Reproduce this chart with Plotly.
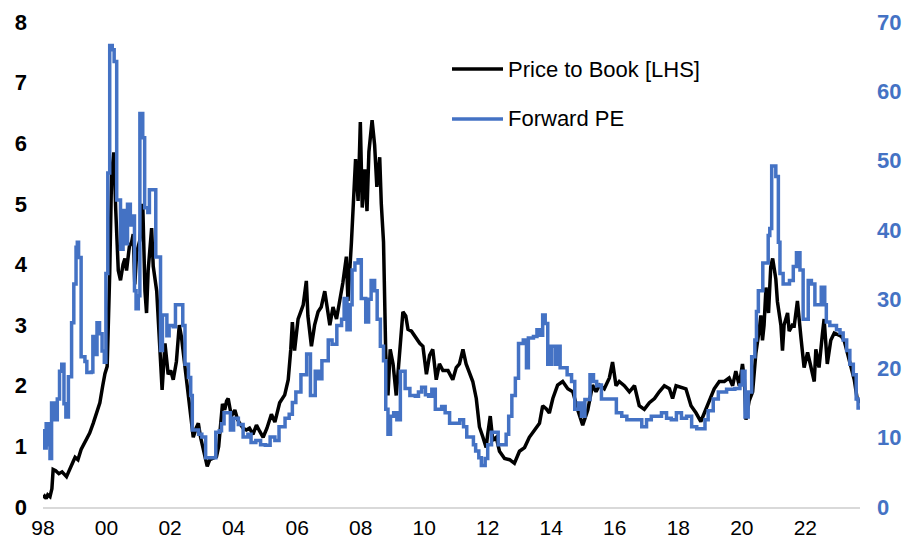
import plotly.graph_objects as go

# ---------------- data ----------------
pb_year = [
    1998.00, 1998.05, 1998.10, 1998.15, 1998.22, 1998.28, 1998.32, 1998.40, 1998.50, 1998.60,
    1998.74, 1998.80, 1998.88, 1998.95, 1999.01, 1999.10, 1999.20, 1999.30, 1999.37, 1999.47,
    1999.58, 1999.66, 1999.72, 1999.79, 1999.88, 1999.95, 2000.02, 2000.06, 2000.10, 2000.16,
    2000.23, 2000.29, 2000.37, 2000.44, 2000.52, 2000.58, 2000.63, 2000.72, 2000.79, 2000.84,
    2000.89, 2000.95, 2001.05, 2001.14, 2001.21, 2001.26, 2001.31, 2001.42, 2001.47, 2001.58,
    2001.66, 2001.75, 2001.84, 2001.94, 2002.02, 2002.10, 2002.20, 2002.29, 2002.36, 2002.47,
    2002.57, 2002.65, 2002.73, 2002.82, 2002.89, 2002.96, 2003.04, 2003.10, 2003.17, 2003.25,
    2003.36, 2003.46, 2003.53, 2003.59, 2003.65, 2003.72, 2003.78, 2003.83, 2003.93, 2004.04,
    2004.12, 2004.19, 2004.30, 2004.40, 2004.50, 2004.61, 2004.72, 2004.82, 2004.93, 2005.05,
    2005.19, 2005.30, 2005.45, 2005.61, 2005.72, 2005.80, 2005.85, 2005.92, 2006.03, 2006.19,
    2006.29, 2006.34, 2006.45, 2006.55, 2006.66, 2006.76, 2006.87, 2007.03, 2007.13, 2007.24,
    2007.34, 2007.44, 2007.55, 2007.60, 2007.71, 2007.76, 2007.84, 2007.92, 2007.99, 2008.05,
    2008.13, 2008.20, 2008.26, 2008.36, 2008.44, 2008.51, 2008.60, 2008.65, 2008.72, 2008.79,
    2008.86, 2008.93, 2009.02, 2009.12, 2009.23, 2009.33, 2009.42, 2009.49, 2009.60, 2009.70,
    2009.86, 2009.96, 2010.07, 2010.17, 2010.27, 2010.38, 2010.48, 2010.59, 2010.75, 2010.90,
    2011.01, 2011.11, 2011.22, 2011.32, 2011.43, 2011.53, 2011.64, 2011.74, 2011.85, 2011.95,
    2012.00, 2012.08, 2012.16, 2012.27, 2012.37, 2012.53, 2012.69, 2012.84, 2013.00, 2013.16,
    2013.31, 2013.47, 2013.63, 2013.73, 2013.84, 2013.94, 2014.05, 2014.20, 2014.36, 2014.52,
    2014.68, 2014.83, 2014.99, 2015.15, 2015.30, 2015.41, 2015.52, 2015.67, 2015.83, 2015.93,
    2016.04, 2016.14, 2016.30, 2016.46, 2016.62, 2016.77, 2016.93, 2017.09, 2017.25, 2017.40,
    2017.56, 2017.72, 2017.82, 2017.93, 2018.08, 2018.24, 2018.40, 2018.56, 2018.71, 2018.82,
    2018.97, 2019.13, 2019.29, 2019.45, 2019.60, 2019.71, 2019.81, 2019.92, 2020.02, 2020.08,
    2020.13, 2020.23, 2020.34, 2020.44, 2020.55, 2020.60, 2020.65, 2020.70, 2020.76, 2020.84,
    2020.91, 2020.97, 2021.07, 2021.12, 2021.23, 2021.28, 2021.33, 2021.44, 2021.49, 2021.59,
    2021.65, 2021.75, 2021.86, 2021.96, 2022.07, 2022.17, 2022.28, 2022.33, 2022.43, 2022.54,
    2022.59, 2022.69, 2022.80, 2022.91, 2023.01, 2023.12, 2023.22, 2023.33, 2023.43, 2023.54,
    2023.63, 2023.72,
]
pb_value = [
    0.15, 0.18, 0.14, 0.20, 0.17, 0.30, 0.62, 0.60, 0.55, 0.58,
    0.50, 0.58, 0.68, 0.75, 0.82, 0.78, 0.95, 1.05, 1.10, 1.22,
    1.38, 1.50, 1.60, 1.72, 2.00, 2.20, 2.32, 3.00, 3.85, 5.50,
    5.85, 4.90, 3.90, 3.74, 4.00, 4.10, 3.90, 4.30, 4.37, 4.50,
    3.67, 4.20, 4.40, 5.00, 3.56, 3.20, 3.90, 4.60, 3.97, 3.56,
    2.65, 1.93, 2.70, 2.19, 2.25, 2.10, 2.40, 3.00, 2.80, 2.30,
    1.79, 1.45, 1.15, 1.30, 1.38, 1.15, 0.98, 0.85, 0.67, 0.78,
    0.80, 0.83, 1.00, 1.32, 1.70, 1.60, 1.75, 1.79, 1.50, 1.60,
    1.45, 1.38, 1.30, 1.27, 1.30, 1.20, 1.35, 1.25, 1.15, 1.30,
    1.53, 1.40, 1.72, 1.85, 2.10, 2.60, 3.05, 2.58, 3.10, 3.33,
    3.73, 3.15, 2.65, 3.00, 3.22, 3.30, 3.56, 3.00, 3.30, 3.10,
    3.39, 3.70, 4.13, 3.40, 4.37, 4.94, 5.74, 5.05, 6.35, 4.94,
    5.57, 4.88, 5.86, 6.38, 5.97, 5.28, 5.77, 5.00, 4.37, 2.53,
    1.84, 2.60, 2.36, 1.84, 2.50, 3.22, 3.15, 2.93, 2.90, 2.82,
    2.70, 2.65, 2.19, 2.50, 2.60, 2.10, 2.36, 2.25, 2.25, 2.10,
    2.30, 2.36, 2.60, 2.36, 2.19, 2.07, 1.79, 1.32, 1.15, 0.98,
    1.20, 1.50, 1.10, 1.15, 0.92, 0.80, 0.78, 0.72, 0.92, 0.98,
    1.15, 1.27, 1.38, 1.67, 1.62, 1.55, 1.79, 2.01, 2.07, 1.95,
    1.90, 1.61, 1.35, 1.60, 2.01, 1.90, 2.01, 1.95, 2.13, 2.39,
    2.00, 2.07, 2.00, 1.90, 2.00, 1.67, 1.61, 1.72, 1.79, 1.90,
    2.00, 1.95, 1.79, 2.00, 1.98, 1.95, 1.67, 1.55, 1.41, 1.55,
    1.72, 1.95, 2.07, 2.07, 2.13, 2.00, 2.24, 2.00, 2.36, 2.10,
    1.44, 1.75, 1.90, 2.53, 2.93, 3.16, 2.75, 3.00, 3.62, 3.20,
    3.96, 4.10, 3.76, 3.39, 3.00, 2.58, 3.00, 3.20, 2.90, 3.00,
    2.99, 3.40, 2.80, 2.30, 2.55, 2.30, 2.07, 2.60, 2.30, 2.87,
    3.10, 2.36, 2.75, 2.87, 2.85, 2.82, 2.75, 2.53, 2.36, 2.10,
    1.79, 1.72,
]

pe_year = [
    1998.00, 1998.04, 1998.10, 1998.16, 1998.22, 1998.27, 1998.38, 1998.45, 1998.52, 1998.59,
    1998.66, 1998.72, 1998.80, 1998.90, 1998.97, 1999.04, 1999.08, 1999.12, 1999.20, 1999.32,
    1999.38, 1999.52, 1999.57, 1999.64, 1999.70, 1999.78, 1999.86, 1999.93, 1999.98, 2000.04,
    2000.10, 2000.18, 2000.24, 2000.32, 2000.44, 2000.52, 2000.60, 2000.66, 2000.75, 2000.82,
    2000.88, 2000.93, 2001.00, 2001.05, 2001.14, 2001.20, 2001.30, 2001.35, 2001.55, 2001.70,
    2001.76, 2001.90, 2001.97, 2002.10, 2002.17, 2002.40, 2002.47, 2002.58, 2002.65, 2002.70,
    2002.90, 2003.00, 2003.12, 2003.44, 2003.55, 2003.62, 2003.70, 2003.90, 2004.00, 2004.15,
    2004.30, 2004.45, 2004.55, 2004.70, 2004.85, 2005.00, 2005.15, 2005.30, 2005.43, 2005.62,
    2005.75, 2005.85, 2005.96, 2006.12, 2006.30, 2006.42, 2006.57, 2006.68, 2006.78, 2006.98,
    2007.10, 2007.25, 2007.40, 2007.48, 2007.57, 2007.67, 2007.73, 2007.82, 2007.92, 2008.02,
    2008.16, 2008.25, 2008.33, 2008.44, 2008.52, 2008.62, 2008.72, 2008.79, 2008.86, 2008.94,
    2009.04, 2009.14, 2009.25, 2009.40, 2009.55, 2009.72, 2009.82, 2009.92, 2010.04, 2010.14,
    2010.24, 2010.35, 2010.55, 2010.66, 2010.80, 2011.12, 2011.24, 2011.34, 2011.55, 2011.62,
    2011.72, 2011.80, 2011.92, 2012.00, 2012.12, 2012.33, 2012.58, 2012.66, 2012.76, 2012.87,
    2012.97, 2013.12, 2013.22, 2013.28, 2013.44, 2013.55, 2013.65, 2013.73, 2013.81, 2013.89,
    2014.00, 2014.12, 2014.20, 2014.28, 2014.50, 2014.64, 2014.74, 2014.86, 2014.95, 2015.06,
    2015.22, 2015.33, 2015.43, 2015.52, 2015.58, 2016.05, 2016.22, 2016.38, 2016.85, 2017.00,
    2017.15, 2017.47, 2017.63, 2017.78, 2017.94, 2018.10, 2018.26, 2018.42, 2018.58, 2018.84,
    2018.94, 2019.10, 2019.26, 2019.52, 2019.78, 2019.94, 2020.01, 2020.10, 2020.20, 2020.31,
    2020.41, 2020.46, 2020.52, 2020.66, 2020.83, 2020.88, 2020.94, 2021.07, 2021.15, 2021.20,
    2021.30, 2021.50, 2021.62, 2021.72, 2021.83, 2021.93, 2022.09, 2022.19, 2022.30, 2022.50,
    2022.61, 2022.66, 2022.77, 2022.98, 2023.09, 2023.19, 2023.30, 2023.40, 2023.51, 2023.60,
    2023.66, 2023.72,
]
pe_value = [
    11.0, 8.5, 12.0, 9.0, 7.0, 15.0, 12.6, 15.6, 19.6, 20.6,
    14.9, 13.0, 18.8, 26.6, 32.2, 37.5, 38.2, 36.0, 21.7, 21.0,
    19.4, 19.5, 24.6, 22.0, 26.6, 25.0, 22.5, 20.9, 33.7, 48.2,
    66.6, 66.0, 64.3, 44.3, 37.2, 42.8, 38.0, 43.7, 40.7, 42.0,
    31.2, 28.6, 30.5, 56.8, 53.3, 43.2, 42.5, 45.8, 36.1, 22.6,
    27.7, 24.7, 26.2, 26.0, 29.2, 26.2, 20.6, 18.7, 16.1, 11.1,
    10.5, 10.1, 7.1, 10.8, 11.0, 12.0, 13.6, 11.1, 12.8, 11.9,
    10.1, 10.5, 9.3, 9.6, 9.0, 8.9, 10.1, 9.6, 11.6, 12.8,
    13.4, 15.1, 16.6, 19.1, 22.1, 16.1, 19.6, 18.5, 21.1, 24.1,
    23.5, 26.2, 27.1, 30.1, 25.6, 29.2, 34.2, 35.2, 35.7, 30.1,
    26.7, 30.0, 32.7, 31.2, 27.1, 23.2, 21.1, 14.1, 10.5, 13.1,
    13.6, 12.6, 19.6, 17.1, 16.1, 16.0, 16.6, 17.3, 16.2, 16.0,
    17.0, 14.1, 14.5, 13.6, 12.1, 12.6, 11.6, 10.1, 9.0, 8.1,
    7.1, 6.0, 7.0, 9.0, 10.8, 9.0, 10.5, 13.1, 16.1, 18.6,
    23.6, 24.1, 20.1, 24.4, 24.6, 25.6, 24.8, 27.7, 26.5, 20.6,
    23.2, 20.6, 23.2, 20.1, 19.1, 18.1, 14.1, 15.0, 13.1, 15.5,
    19.1, 18.1, 17.5, 17.6, 15.6, 13.6, 13.1, 12.6, 11.6, 12.6,
    13.1, 13.6, 12.8, 12.6, 13.6, 12.8, 13.1, 11.6, 11.3, 12.6,
    13.9, 15.6, 16.6, 17.0, 17.1, 17.6, 19.6, 13.0, 16.6, 21.7,
    24.1, 28.2, 31.2, 35.2, 39.2, 40.2, 49.2, 47.7, 38.2, 33.7,
    32.2, 32.7, 34.7, 36.7, 34.2, 27.1, 32.7, 32.2, 29.2, 31.7,
    29.2, 26.7, 26.2, 25.6, 25.1, 24.1, 22.6, 20.6, 19.1, 15.6,
    14.3, 14.3,
]

x_tick_vals = [1998, 2000, 2002, 2004, 2006, 2008, 2010, 2012, 2014, 2016, 2018, 2020, 2022]
x_tick_text = ["98", "00", "02", "04", "06", "08", "10", "12", "14", "16", "18", "20", "22"]
left_ticks = [0, 1, 2, 3, 4, 5, 6, 7, 8]
right_ticks = [0, 10, 20, 30, 40, 50, 60, 70]

series_names = ["Price to Book [LHS]", "Forward PE"]
BLACK = "#000000"
BLUE = "#4472C4"
FONT = "Arial, Liberation Sans, sans-serif"

# ---------------- figure ----------------
fig = go.Figure()
fig.add_trace(go.Scatter(
    x=pe_year, y=pe_value, name=series_names[1], yaxis="y2",
    mode="lines", line=dict(color=BLUE, width=3.5, shape="hv"), showlegend=False,
))
fig.add_trace(go.Scatter(
    x=pb_year, y=pb_value, name=series_names[0], yaxis="y",
    mode="lines", line=dict(color=BLACK, width=3.5), showlegend=False,
))

L, R, T, B = 43, 47, 22, 36
W, H = 907, 543
pw, ph = W - L - R, H - T - B


def px_to_paper(px, py):
    return (px - L) / pw, (H - B - py) / ph


# manual legend (line samples + text)
for i, (name, col) in enumerate(zip(series_names, [BLACK, BLUE])):
    py = 69 + 50 * i
    x0, yy = px_to_paper(452, py)
    x1, _ = px_to_paper(503, py)
    fig.add_shape(type="line", xref="paper", yref="paper", x0=x0, x1=x1, y0=yy, y1=yy,
                  line=dict(color=col, width=3.5))
    tx, _ = px_to_paper(506, py)
    fig.add_annotation(xref="paper", yref="paper", x=tx, y=yy, text=name, showarrow=False,
                       xanchor="left", yanchor="middle",
                       font=dict(family=FONT, size=22, color=BLACK))

fig.update_layout(
    width=W, height=H,
    margin=dict(l=L, r=R, t=T, b=B, autoexpand=False),
    paper_bgcolor="white", plot_bgcolor="white",
    font=dict(family=FONT, color=BLACK),
    xaxis=dict(
        range=[1998, 2023.72], tickvals=x_tick_vals, ticktext=x_tick_text,
        showgrid=False, zeroline=False, showline=True, linecolor="#D9D9D9", linewidth=2,
        ticks="", tickfont=dict(family=FONT, size=21, color=BLACK), ticklabelstandoff=1,
    ),
    yaxis=dict(
        range=[0, 8], tickvals=left_ticks, showgrid=False, zeroline=False, showline=False,
        ticks="", tickfont=dict(family=FONT, size=22, color=BLACK, weight="bold"),
        ticklabelstandoff=15,
    ),
    yaxis2=dict(
        range=[0, 70], tickvals=right_ticks, overlaying="y", side="right",
        showgrid=False, zeroline=False, showline=False, ticks="",
        tickfont=dict(family=FONT, size=22, color=BLUE, weight="bold"),
        ticklabelstandoff=16,
    ),
)

fig.write_html(
    "out.html",
    config={"displayModeBar": False},
    post_script="document.body.style.margin='0';document.body.style.padding='0';"
                "document.body.style.overflow='hidden';",
)
